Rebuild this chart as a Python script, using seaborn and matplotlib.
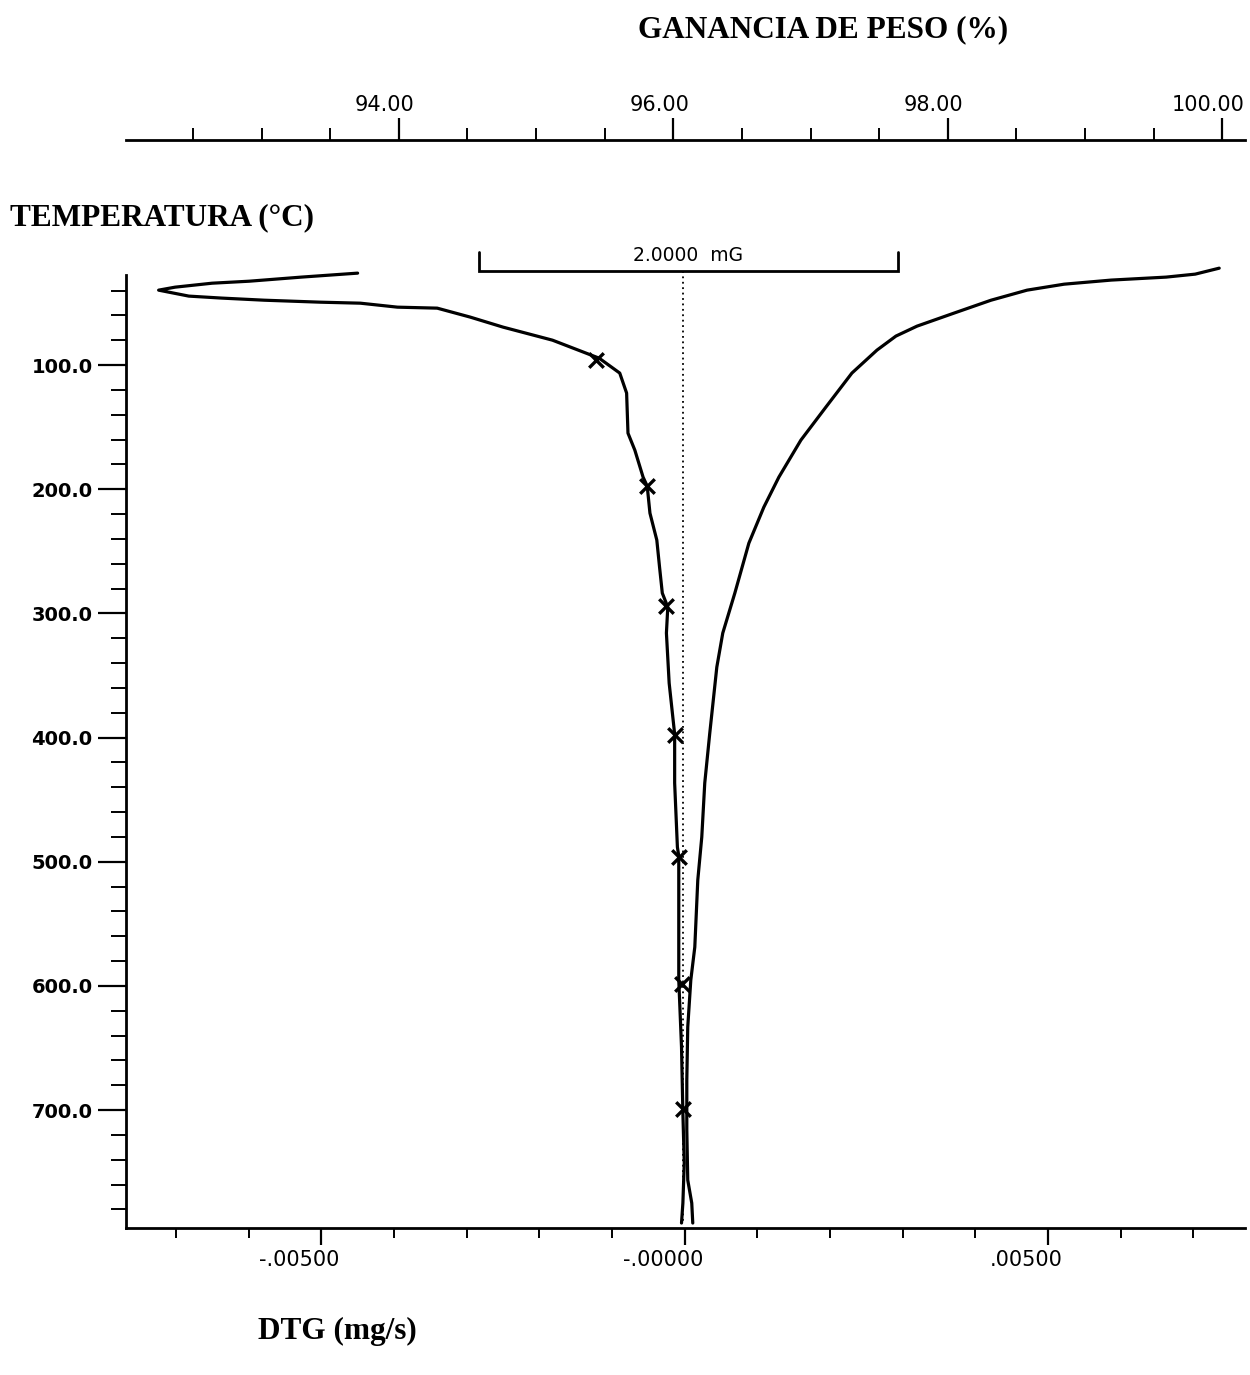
import numpy as np
import pandas as pd
import matplotlib
matplotlib.use("Agg")
import matplotlib.pyplot as plt
from matplotlib.ticker import FixedLocator, MultipleLocator, FuncFormatter
from matplotlib.transforms import ScaledTranslation
import seaborn as sns

# ---------------- data ----------------
# TG curve: weight (%) on top axis vs temperature (°C)
tg_pct = [93.70, 93.29, 92.91, 92.64, 92.37, 92.25, 92.47, 92.71, 93.02, 93.43,
          93.72, 93.99, 94.28, 94.52, 94.76, 95.12, 95.46, 95.61, 95.66, 95.67,
          95.72, 95.78, 95.81, 95.83, 95.88, 95.90, 95.92, 95.96, 95.95, 95.97,
          96.01, 96.01, 96.03, 96.04, 96.04, 96.04, 96.06, 96.07, 96.08, 96.07, 96.06]
tg_temp = [25.9, 29.1, 32.4, 34.0, 37.2, 39.6, 44.4, 46.0, 47.7, 49.3,
           50.1, 53.3, 54.1, 61.3, 69.4, 79.9, 94.4, 106.4, 122.5, 154.8,
           168.5, 190.2, 197.4, 219.2, 240.9, 262.7, 283.6, 294.9, 315.8, 356.1,
           397.2, 436.6, 488.2, 495.4, 541.3, 595.3, 649.3, 702.4, 742.7, 774.9, 791.0]

# markers on the TG curve
mark_pct = [95.44, 95.81, 95.95, 96.01, 96.04, 96.06, 96.07]
mark_temp = [96.0, 197.6, 294.0, 397.6, 496.0, 598.4, 699.0]

# DTG curve (mg/s) vs temperature (°C)
dtg_val = [0.007355, 0.007025, 0.006625, 0.005868, 0.005220, 0.004711, 0.004215,
           0.003705, 0.003196, 0.002906, 0.002645, 0.002300, 0.001942, 0.001598,
           0.001295, 0.001088, 0.000882, 0.000689, 0.000523, 0.000441, 0.000344,
           0.000275, 0.000234, 0.000179, 0.000138, 0.000083, 0.000041, 0.000028,
           0.000028, 0.000041, 0.000096, 0.000110]
dtg_temp = [21.9, 26.7, 29.1, 31.5, 34.8, 39.6, 47.7, 58.1, 68.6, 76.6, 87.9,
            106.4, 133.8, 160.4, 190.2, 214.4, 243.4, 283.6, 315.8, 343.2, 396.4,
            436.6, 480.1, 514.8, 568.7, 595.3, 633.1, 675.8, 716.1, 756.4, 774.9, 791.0]

# scale bar (2.0000 mG) and reference line
bar_x = [-0.002837, -0.002837, 0.002934, 0.002934]
bar_t = [9.0, 24.3, 24.3, 9.0]
ref_x = [-0.00003, -0.00003]
ref_t = [24.3, 792.0]

temp_ticks = [100, 200, 300, 400, 500, 600, 700]
dtg_ticks = [-0.005, 0.0, 0.005]
dtg_labels = ["-.00500", "-.00000", ".00500"]
pct_ticks = [94, 96, 98, 100]

tg_df = pd.DataFrame({"pct": tg_pct, "temp": tg_temp})
mk_df = pd.DataFrame({"pct": mark_pct, "temp": mark_temp})
dtg_df = pd.DataFrame({"dtg": dtg_val, "temp": dtg_temp})

# ---------------- figure ----------------
sns.set_style("ticks")
plt.rcParams["font.family"] = ["DejaVu Sans"]
for k in ["text.color", "axes.labelcolor", "xtick.color", "ytick.color", "axes.edgecolor"]:
    plt.rcParams[k] = "black"

W, H = 1250, 1375
fig = plt.figure(figsize=(W / 100, H / 100), dpi=100)
ax_l, ax_r, ax_b, ax_t = 126, 1245, 1228, 275
ax = fig.add_axes([ax_l / W, 1 - ax_b / H, (ax_r - ax_l) / W, (ax_b - ax_t) / H])

x_lo, x_hi = -0.00769, 0.00771
ax.set_xlim(x_lo, x_hi)
ax.set_ylim(795, 27.4)

# DTG curve
sns.lineplot(data=dtg_df, x="dtg", y="temp", sort=False, estimator=None,
             color="black", lw=2.3, ax=ax, clip_on=False)
# reference dotted line
ax.plot(ref_x, ref_t, color="black", lw=1.3, ls=(0, (1, 2)), clip_on=False)
# scale bar
ax.plot(bar_x, bar_t, color="black", lw=2.0, clip_on=False, solid_joinstyle="miter")
ax.text((bar_x[0] + bar_x[-1]) / 2, 12.0, "2.0000  mG", ha="center", va="center",
        fontsize=13.5, clip_on=False)

# twin axis for TG (%)
ax2 = ax.twiny()
pct_lo = 96 + (ax_l + 1.7 - 674) / 137
pct_hi = 96 + (ax_r - 0.3 - 674) / 137
ax2.set_xlim(pct_lo, pct_hi)
ax2.set_ylim(795, 27.4)
sns.lineplot(data=tg_df, x="pct", y="temp", sort=False, estimator=None,
             color="black", lw=2.3, ax=ax2, clip_on=False)
sns.scatterplot(data=mk_df, x="pct", y="temp", marker="x", s=110, color="black",
                linewidth=2.4, ax=ax2, clip_on=False)

# ---------------- axes styling ----------------
for s in ["top", "right"]:
    ax.spines[s].set_visible(False)
for s in ["left", "bottom"]:
    ax.spines[s].set_linewidth(2.0)
ax.xaxis.set_major_locator(FixedLocator(dtg_ticks))
ax.xaxis.set_major_formatter(FuncFormatter(
    lambda v, p: dtg_labels[dtg_ticks.index(round(v, 4))] if round(v, 4) in dtg_ticks else ""))
ax.xaxis.set_minor_locator(MultipleLocator(0.001))
ax.yaxis.set_major_locator(FixedLocator(temp_ticks))
ax.yaxis.set_major_formatter(FuncFormatter(lambda v, p: f"{v:.1f}"))
ax.yaxis.set_minor_locator(MultipleLocator(20))
ax.tick_params(axis="x", which="major", direction="out", length=12, width=1.6,
               labelsize=15, pad=4)
ax.tick_params(axis="x", which="minor", direction="out", length=7, width=1.4)
ax.tick_params(axis="y", which="major", direction="out", length=20, width=1.6,
               labelsize=14, pad=4)
ax.tick_params(axis="y", which="minor", direction="out", length=11, width=1.4)
for lab in ax.get_yticklabels():
    lab.set_fontweight("bold")
for lab in ax.get_xticklabels():
    lab.set_transform(lab.get_transform() + ScaledTranslation(-0.22, 0, fig.dpi_scale_trans))
ax.set_xlabel("")
ax.set_ylabel("")

for s in ["bottom", "left", "right"]:
    ax2.spines[s].set_visible(False)
ax2.spines["top"].set_position(("axes", (ax_b - 140) / (ax_b - ax_t)))
ax2.spines["top"].set_linewidth(2.0)
ax2.xaxis.set_major_locator(FixedLocator(pct_ticks))
ax2.xaxis.set_major_formatter(FuncFormatter(lambda v, p: f"{v:.2f}"))
ax2.xaxis.set_minor_locator(MultipleLocator(0.5))
ax2.tick_params(axis="x", which="major", direction="out", length=16, width=1.6,
                labelsize=15, pad=2)
ax2.tick_params(axis="x", which="minor", direction="out", length=9, width=1.4)
for lab in ax2.get_xticklabels():
    lab.set_transform(lab.get_transform() + ScaledTranslation(-0.14, 0, fig.dpi_scale_trans))
ax2.set_xlabel("")
ax2.set_ylabel("")
ax2.tick_params(axis="y", which="both", left=False, right=False,
                labelleft=False, labelright=False)

# ---------------- titles ----------------
serif = ["Liberation Serif", "DejaVu Serif"]
fig.text(823 / W, 1 - 30 / H, "GANANCIA DE PESO (%)", ha="center", va="center",
         fontsize=22.5, fontweight="bold", family=serif)
fig.text(10 / W, 1 - 218 / H, "TEMPERATURA (°C)", ha="left", va="center",
         fontsize=22.5, fontweight="bold", family=serif)
fig.text(258 / W, 1 - 1331 / H, "DTG (mg/s)", ha="left", va="center",
         fontsize=22.5, fontweight="bold", family=serif)

fig.savefig("out.png", dpi=100)
